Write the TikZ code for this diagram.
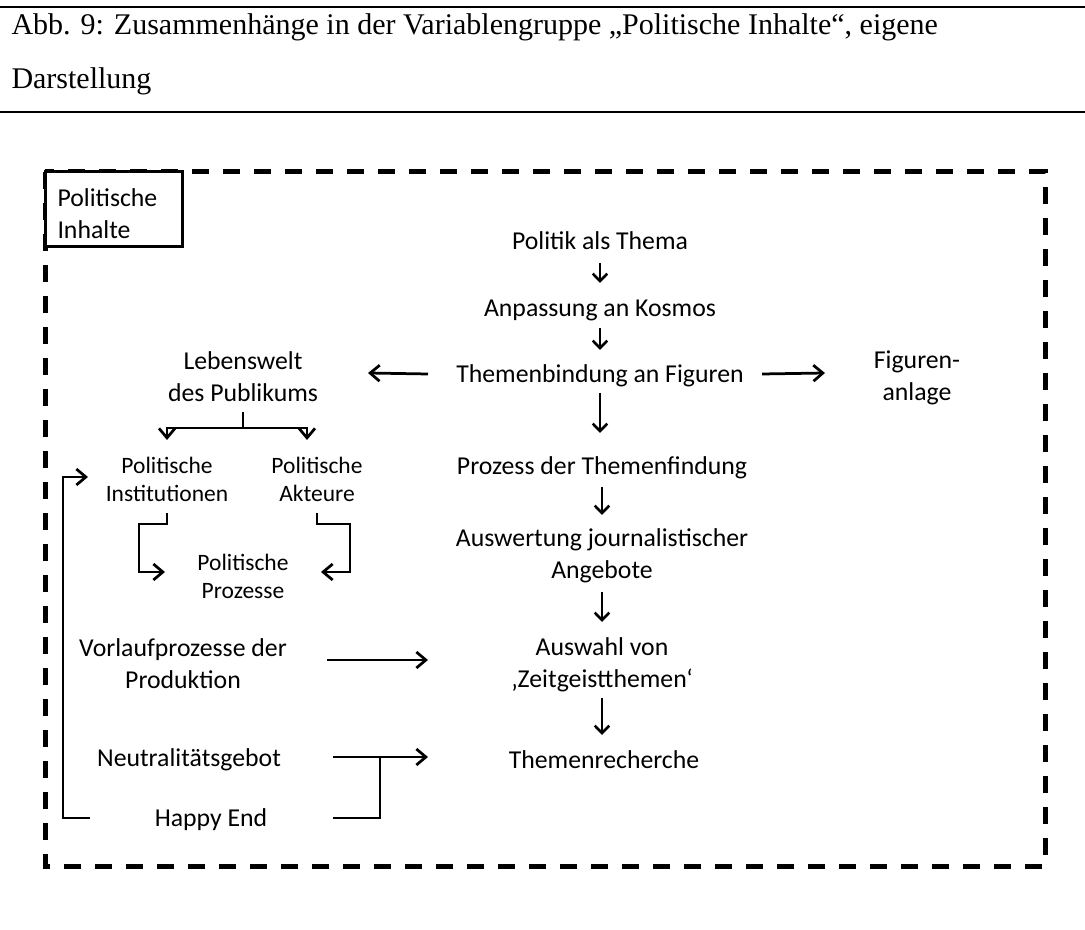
\documentclass[tikz,border=0pt]{standalone}
\usepackage{fontspec}
\setmainfont{Liberation Serif}
\newfontfamily\diafont{Carlito}
\usetikzlibrary{arrows.meta,calc}
\begin{document}
\begin{tikzpicture}[x=0.4pt,y=-0.4pt,
  lbl/.style={inner sep=0pt, align=center, font=\diafont\fontsize{10.3}{12.8}\selectfont},
  lblsmall/.style={inner sep=0pt, align=center, font=\diafont\fontsize{9.4}{11.2}\selectfont},
  captext/.style={inner sep=0pt, anchor=base west, font=\fontsize{12}{14}\selectfont},
  arr/.style={line width=1.05pt, -{Straight Barb[length=3pt,width=5.8pt]}},
  arrbig/.style={line width=1.1pt, -{Straight Barb[length=3.8pt,width=6.4pt]}},
  link/.style={line width=1.05pt},
  rule/.style={line width=1.1pt},
  frame/.style={line width=2pt, dash pattern=on 6.8pt off 5.6pt},
  tagbox/.style={line width=1.2pt, fill=white}]
\useasboundingbox (0,0) rectangle (1085,930);

% caption between two rules
\draw[rule] (0,7) -- (1085,7);
\node[captext] (cap1) at (11,35) {Abb. 9: Zusammenhänge in der Variablengruppe „Politische Inhalte“, eigene};
\node[captext] (cap2) at (11,89) {Darstellung};
\draw[rule] (0,112) -- (1085,112);

% dashed frame with its title box
\draw[frame] (45,172) rectangle (1045,866);
\draw[tagbox] (45,172) rectangle (182,247);
\node[lbl, anchor=west, align=left] (tag) at (57,214) {Politische\\Inhalte};

% central chain
\node[lbl] (politik)   at (600,241) {Politik als Thema};
\node[lbl] (anpassung) at (600,310) {Anpassung an Kosmos};
\node[lbl] (themen)    at (600,376) {Themenbindung an Figuren};
\node[lbl] (prozess)   at (602,468) {Prozess der Themenfindung};
\node[lbl] (auswert)   at (602,556) {Auswertung journalistischer\\Angebote};
\node[lbl] (auswahl)   at (602,665) {Auswahl von\\‚Zeitgeistthemen‘};
\node[lbl] (recherche) at (604,760) {Themenrecherche};

% side nodes
\node[lbl] (figuren)  at (917,378) {Figuren-\\anlage};
\node[lbl] (leben)    at (243,377) {Lebenswelt\\des Publikums};
\node[lblsmall] (inst)     at (167,479) {Politische\\Institutionen};
\node[lblsmall] (akt)      at (317,479) {Politische\\Akteure};
\node[lblsmall] (prozesse) at (243,576) {Politische\\Prozesse};
\node[lbl] (vorlauf)  at (183,664) {Vorlaufprozesse der\\Produktion};
\node[lbl] (neutral)  at (189,760) {Neutralitätsgebot};
\node[lbl] (happy)    at (211,820) {Happy End};

% vertical arrows of the chain
\draw[arr] (politik.center)   ++(0,22) -- ++(0,20);
\draw[arr] (anpassung.center) ++(0,18) -- ++(0,22);
\draw[arr] (themen.center)    ++(0,17) -- ++(0,40);
\draw[arr] (prozess.center)   ++(0,19) -- ++(0,28);
\draw[arr] (auswert.center)   ++(0,36) -- ++(0,30);
\draw[arr] (auswahl.center)   ++(0,33) -- ++(0,37);

% horizontal arrows from the chain
\draw[arrbig] ($(themen.center)+(-172,-2)$) -- ($(leben.center)+(125,-4)$);
\draw[arrbig] ($(themen.center)+(162,-2)$) -- ($(figuren.center)+(-92,-5)$);
\draw[arrbig] ($(vorlauf.center)+(144,-4)$) -- ($(auswahl.center)+(-174,-5)$);
\draw[arrbig] ($(neutral.center)+(144,-3)$) -- ($(recherche.center)+(-176,-3)$);

% fork below Lebenswelt
\coordinate (fork) at ($(leben.center)+(0,51)$);
\draw[link] ($(leben.center)+(0,35)$) -- (fork);
\draw[arrbig] (fork) -| ($(inst.center)+(0,-39)$);
\draw[arrbig] (fork) -| ($(akt.center)+(-10,-39)$);

% elbows into Politische Prozesse
\draw[arrbig] ($(inst.center)+(0,34)$) -- ++(0,11) -| ++(-28,48) -- ($(prozesse.center)+(-78,-4)$);
\draw[arrbig] ($(akt.center)+(0,34)$) -- ++(0,11) -| ++(33,48) -- ($(prozesse.center)+(78,-4)$);

% Happy End joins the Neutralitätsgebot arrow and loops back up
\draw[link] ($(happy.center)+(122,-2)$) -| ($(neutral.center)+(191,-3)$);
\draw[arrbig] ($(happy.center)+(-121,-2)$) -- ++(-27,0) |- ($(inst.center)+(-79,-2)$);
\end{tikzpicture}
\end{document}
